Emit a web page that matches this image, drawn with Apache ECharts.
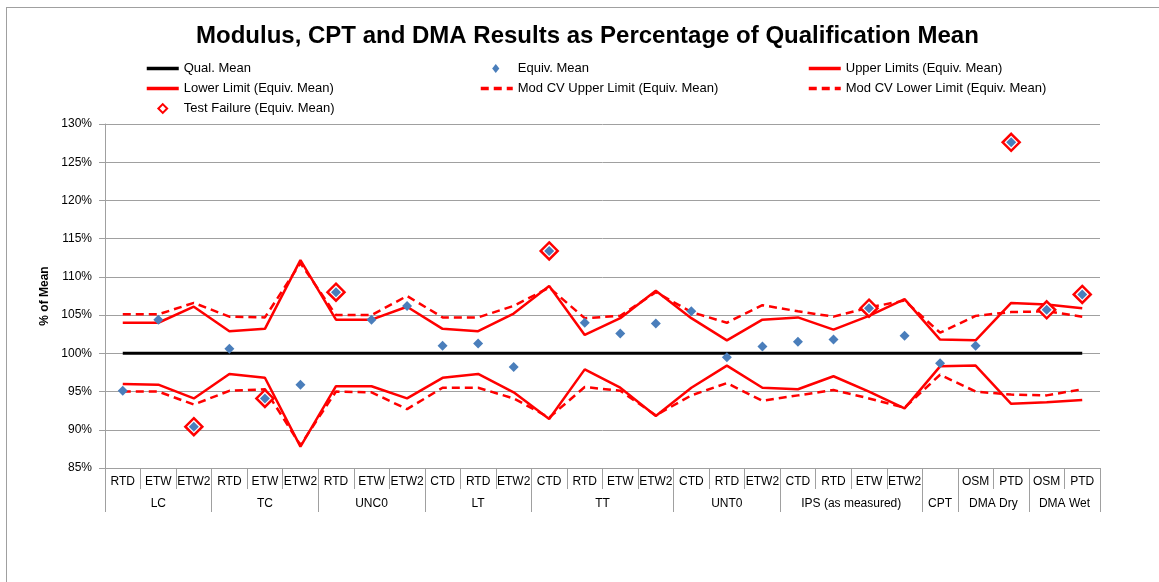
<!DOCTYPE html>
<html>
<head>
<meta charset="utf-8">
<script src="https://cdn.jsdelivr.net/npm/echarts@6/dist/echarts.min.js"></script>
<style>
  html, body { margin: 0; padding: 0; background: #fff; }
  #frame { position: absolute; left: 6px; top: 7px; width: 1170px; height: 590px; border: 1px solid #a0a0a0; }
  #chart { position: absolute; left: 0; top: 0; width: 1159px; height: 582px; }
</style>
</head>
<body>
<div id="frame"></div>
<div id="chart"></div>
<script>
// sub-category labels along the x axis
const categories = ["RTD", "ETW", "ETW2", "RTD", "ETW", "ETW2", "RTD", "ETW", "ETW2",
  "CTD", "RTD", "ETW2", "CTD", "RTD", "ETW", "ETW2", "CTD", "RTD", "ETW2",
  "CTD", "RTD", "ETW", "ETW2", "", "OSM", "PTD", "OSM", "PTD"];
// group labels (second row) and how many categories each one spans
const groupNames = ["LC", "TC", "UNC0", "LT", "TT", "UNT0", "IPS (as measured)", "CPT", "DMA Dry", "DMA Wet"];
const groupSizes = [3, 3, 3, 3, 4, 3, 4, 1, 2, 2];

const qualMean = [100, 100, 100, 100, 100, 100, 100, 100, 100, 100, 100, 100, 100, 100,
  100, 100, 100, 100, 100, 100, 100, 100, 100, 100, 100, 100, 100, 100];
const equivMean = [95.1, 104.4, 90.4, 100.6, 94.1, 95.9, 108.0, 104.4, 106.2,
  101.0, 101.3, 98.2, 113.4, 104.0, 102.6, 103.9, 105.5, 99.5, 100.9,
  101.5, 101.8, 105.9, 102.3, 98.7, 101.0, 127.6, 105.7, 107.7];
const upperLimit = [104.0, 104.0, 106.1, 102.9, 103.2, 112.2, 104.4, 104.4, 106.1,
  103.2, 102.9, 105.2, 108.8, 102.4, 104.6, 108.2, 104.6, 101.7, 104.4,
  104.7, 103.1, 104.9, 107.1, 101.8, 101.7, 106.6, 106.4, 105.9];
const lowerLimit = [96.0, 95.9, 94.1, 97.3, 96.8, 87.8, 95.7, 95.7, 94.1,
  96.8, 97.3, 94.9, 91.4, 97.9, 95.5, 91.8, 95.5, 98.4, 95.5,
  95.3, 97.0, 95.0, 92.8, 98.3, 98.4, 93.4, 93.6, 93.9];
const modCvUpper = [105.1, 105.1, 106.6, 104.8, 104.7, 111.8, 105.0, 105.0, 107.5,
  104.7, 104.7, 106.2, 108.6, 104.6, 104.9, 108.0, 105.4, 104.0, 106.3,
  105.5, 104.8, 106.0, 106.9, 102.7, 104.9, 105.4, 105.5, 104.8];
const modCvLower = [95.0, 95.0, 93.3, 95.1, 95.3, 88.0, 95.0, 94.9, 92.7,
  95.5, 95.5, 94.1, 91.6, 95.6, 95.1, 91.9, 94.5, 96.1, 93.8,
  94.5, 95.2, 94.1, 92.9, 97.2, 95.0, 94.6, 94.5, 95.3];
const testFailure = ["-", "-", 90.4, "-", 94.1, "-", 108.0, "-", "-",
  "-", "-", "-", 113.4, "-", "-", "-", "-", "-", "-",
  "-", "-", 105.9, "-", "-", "-", 127.6, 105.7, 107.7];

// group axis uses half-category steps: boundaries and centres both land on points
const halfSlots = [];
const groupTicks = {};
const groupLabels = {};
let start = 0;
for (let g = 0; g < groupNames.length; g++) {
  groupTicks[start * 2] = true;
  groupLabels[start * 2 + groupSizes[g]] = groupNames[g];
  start += groupSizes[g];
}
groupTicks[start * 2] = true;
for (let k = 0; k <= start * 2; k++) {
  halfSlots.push(groupLabels[k] || "");
}

const font = "Liberation Sans, Arial, sans-serif";
const grey = "#a0a0a0";
const red = "#ff0000";

// legend icons: a small diamond centred in a 32x10 box (the M points fix the box)
const smallDiamond = "path://M0,0 M32,10 M15,0.4 L18.6,5 L15,9.6 L11.4,5 Z";
const hollowDiamond = "path://M0,0 M32,10 M16,0.6 L20.4,5 L16,9.4 L11.6,5 Z";
const lineOnly = { itemStyle: { opacity: 0 }, lineStyle: { width: 3.5 } };

const legendBase = {
  orient: "vertical", top: 57, itemWidth: 32, itemHeight: 10, itemGap: 7,
  textStyle: { fontSize: 13, color: "#000", fontFamily: font },
};

const option = {
  backgroundColor: "transparent",
  textStyle: { fontFamily: font },
  title: {
    text: "Modulus, CPT and DMA Results as Percentage of Qualification Mean",
    left: 191,
    top: 19,
    textStyle: { fontSize: 24, fontWeight: "bold", color: "#000", fontFamily: font },
  },
  legend: [
    Object.assign({}, legendBase, {
      left: 140,
      data: [
        Object.assign({ name: "Qual. Mean" }, lineOnly),
        Object.assign({ name: "Lower Limit (Equiv. Mean)" }, lineOnly),
        { name: "Test Failure (Equiv. Mean)", icon: hollowDiamond },
      ],
    }),
    Object.assign({}, legendBase, {
      left: 474,
      data: [
        { name: "Equiv. Mean", icon: smallDiamond },
        Object.assign({ name: "Mod CV Upper Limit (Equiv. Mean)" }, lineOnly),
      ],
    }),
    Object.assign({}, legendBase, {
      left: 802,
      data: [
        Object.assign({ name: "Upper Limits (Equiv. Mean)" }, lineOnly),
        Object.assign({ name: "Mod CV Lower Limit (Equiv. Mean)" }, lineOnly),
      ],
    }),
  ],
  grid: { left: 105, right: 59, top: 124, bottom: 114 },
  xAxis: [
    {
      type: "category",
      data: categories,
      boundaryGap: true,
      axisLine: { show: true, lineStyle: { color: grey, width: 1 } },
      axisTick: { show: true, interval: 0, alignWithLabel: false, length: 21, lineStyle: { color: grey } },
      axisLabel: { interval: 0, fontSize: 12, color: "#000", margin: 8 },
    },
    {
      type: "category",
      data: halfSlots,
      boundaryGap: false,
      position: "bottom",
      axisLine: { show: false },
      axisTick: {
        show: true,
        length: 44,
        interval: (i) => !!groupTicks[i],
        lineStyle: { color: grey },
      },
      axisLabel: {
        interval: (i) => !!groupLabels[i],
        fontSize: 12, color: "#000", margin: 30,
      },
      splitLine: { show: false },
    },
  ],
  yAxis: {
    type: "value",
    min: 85,
    max: 130,
    interval: 5,
    name: "% of Mean",
    nameLocation: "middle",
    nameGap: 53,
    nameTextStyle: { fontSize: 12, fontWeight: "bold", color: "#000" },
    axisLine: { show: true, lineStyle: { color: grey } },
    axisTick: { show: true, length: 6, lineStyle: { color: grey } },
    axisLabel: { formatter: "{value}%", fontSize: 12, color: "#000", margin: 13 },
    splitLine: { lineStyle: { color: grey, width: 1 } },
  },
  series: [
    {
      name: "Qual. Mean", type: "line", data: qualMean, symbol: "none",
      lineStyle: { color: "#000", width: 3 }, itemStyle: { color: "#000" }, z: 3,
    },
    {
      name: "Upper Limits (Equiv. Mean)", type: "line", data: upperLimit, symbol: "none",
      lineStyle: { color: red, width: 2.5 }, itemStyle: { color: red }, z: 3,
    },
    {
      name: "Lower Limit (Equiv. Mean)", type: "line", data: lowerLimit, symbol: "none",
      lineStyle: { color: red, width: 2.5 }, itemStyle: { color: red }, z: 3,
    },
    {
      name: "Mod CV Upper Limit (Equiv. Mean)", type: "line", data: modCvUpper, symbol: "none",
      lineStyle: { color: red, width: 2.5, type: [8, 5] }, itemStyle: { color: red }, z: 3,
    },
    {
      name: "Mod CV Lower Limit (Equiv. Mean)", type: "line", data: modCvLower, symbol: "none",
      lineStyle: { color: red, width: 2.5, type: [8, 5] }, itemStyle: { color: red }, z: 3,
    },
    {
      name: "Test Failure (Equiv. Mean)", type: "scatter", data: testFailure,
      symbol: "diamond", symbolSize: 17,
      itemStyle: { color: "#fff", borderColor: red, borderWidth: 2.5, opacity: 1 }, z: 4,
    },
    {
      name: "Equiv. Mean", type: "scatter", data: equivMean,
      symbol: "diamond", symbolSize: 10,
      itemStyle: { color: "#4a7ebb", opacity: 1 }, z: 5,
    },
  ],
};

const myChart = echarts.init(document.getElementById("chart"));
myChart.setOption(option);
</script>
</body>
</html>
